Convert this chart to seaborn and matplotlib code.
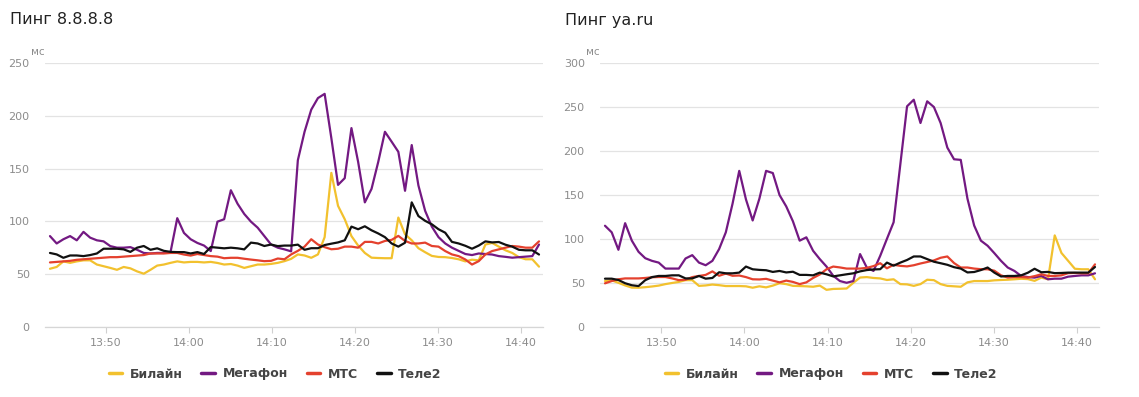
import matplotlib
matplotlib.use('Agg')
import matplotlib.pyplot as plt
import matplotlib.dates as mdates
import pandas as pd
import seaborn as sns

# sample times (same for both charts)
times = pd.date_range('2024-01-01 13:43:15', '2024-01-01 14:42:09', periods=74)

operators = ['Билайн', 'Мегафон', 'МТС', 'Теле2']
colors = {'Билайн': '#f2c12e', 'Мегафон': '#731982', 'МТС': '#e4412e', 'Теле2': '#111111'}

# Пинг 8.8.8.8, ms
g_beeline = [55, 56.7, 62, 60.6, 62, 63, 63, 59, 57.4, 55.8, 54, 56.7, 55.4, 52.5, 50.3, 54, 58, 59, 60.6, 62,
             61, 61.5, 61.5, 61, 61.5, 60.5, 59, 59.5, 58, 55.8, 57.4, 59, 59, 59.6, 60.6, 62.2, 64.4, 68.6, 67.6, 65.4,
             68.6, 85, 146, 114.7, 102, 86, 77, 70, 65.5, 65.2, 65, 65, 103.6, 87.7, 82, 74.5, 70.7, 67.2, 66.2, 66,
             65.2, 64, 62, 63.6, 63, 78, 79.5, 76, 72.5, 70, 66, 64, 64, 57]
g_megafon = [86, 79, 83, 86, 82, 90, 84.5, 82, 81, 76.5, 75, 75, 75.5, 73, 70, 69.5, 70, 70, 71, 103,
             89, 83, 79.5, 77, 71.8, 99.7, 102, 129.5, 116.7, 107, 99.7, 94, 86, 78, 75, 73.4, 71.5, 158, 185, 206,
             217, 221, 179, 134.6, 141, 188.5, 156.4, 118, 130.8, 156.4, 185, 175.6, 166, 129, 172.4, 134, 110, 95, 85, 79,
             75, 72, 69, 68, 69.5, 69, 68.5, 67, 66.3, 65.5, 66, 66.5, 67, 78]
g_mts = [61, 61.5, 62, 62.5, 63.5, 64, 64.5, 65, 65.5, 66, 66, 66.5, 67, 67.5, 68, 69.5, 69.5, 69.5, 70, 70,
         68.5, 67.5, 69, 68, 67, 66.5, 65, 65.4, 65.4, 64.5, 63.7, 63, 62.2, 62.5, 64.7, 64, 68.6, 72, 76, 83,
         78, 75.5, 73.5, 74, 76, 76, 75, 80.5, 80.5, 79, 81.4, 82.4, 86.2, 81.4, 79, 79, 79.8, 76.6, 76, 71.8,
         68.6, 67, 63.8, 59, 62.2, 68.6, 71.8, 73.4, 75, 76.6, 76, 75, 75, 81]
g_tele2 = [70, 68.6, 65.4, 67.6, 67.6, 67, 68, 69.5, 74, 74, 74, 73.4, 71, 75, 76.6, 73, 74.4, 72, 71, 70.8,
           70.8, 69.5, 70.8, 69, 75.6, 75, 74.4, 75, 74.4, 73.4, 79.8, 79, 76.6, 78, 76.5, 77, 77, 77.9, 73, 74.5,
           74.5, 77.5, 78.8, 80, 82, 95, 92.5, 95.3, 91.5, 88.5, 85, 79, 76, 79.7, 118, 105, 100.5, 97.2, 92.5, 89.2,
           80.5, 79, 76.8, 74, 77, 81, 80, 80.4, 77.8, 76, 73, 72.5, 72.5, 68.5]

# Пинг ya.ru, ms
y_beeline = [52, 52.8, 50, 47, 44.5, 44.4, 45, 45.8, 46.8, 48.5, 49.8, 51, 53, 53, 46.5, 47, 48, 47.3, 46.3, 46.3,
             46.3, 46, 44.4, 46, 44.8, 46.8, 49.5, 48.5, 46.5, 46.3, 46, 45.5, 46.8, 42, 43, 43.2, 43.5, 50, 56, 56.5,
             55.5, 55, 53.2, 54, 48.5, 48.2, 46.5, 48.5, 53.5, 53, 48.5, 46.5, 46, 45.5, 50.5, 52, 52, 52, 52.8, 53.2,
             53.5, 54, 54.6, 54.2, 52.2, 55.9, 54, 104, 84, 75, 66, 65.4, 65.4, 54]
y_megafon = [115, 107.5, 87.6, 117.9, 98, 85.3, 78, 75, 73, 66.2, 66.2, 66.2, 77.7, 81.5, 73, 70, 75, 88.4, 107.5, 140,
             177.5, 145, 121, 145.8, 177.5, 175, 150, 137, 120, 98, 101.8, 86.5, 77, 68.5, 58, 52, 50, 52, 82.7, 67.4,
             63.5, 80.7, 100, 119, 185, 251, 258.5, 232, 256.7, 250.2, 232, 204, 190.7, 190, 145.8, 115.2, 98, 92.2, 83.8, 75,
             67.4, 63.5, 57.8, 56.5, 55.9, 57.8, 54, 54.7, 54.7, 57, 57.8, 58.5, 58.5, 60.8]
y_mts = [49.4, 52, 54, 55, 55, 55, 55.5, 56.3, 56.6, 56.6, 55, 53, 53.5, 56.5, 57.8, 59, 63, 58, 60.5, 58,
         58.3, 56.5, 54, 53.8, 54.5, 52.5, 50.5, 52.5, 51, 48.5, 50.5, 55.5, 59.5, 65.4, 68.5, 67.5, 66.2, 66.2, 66.2, 67,
         69, 72.3, 66.5, 70.5, 69.3, 68.7, 70, 72, 73.7, 75.5, 78.5, 80, 72.5, 67.4, 67.4, 66.2, 65.5, 65.4, 63.8, 58.5,
         56, 56.5, 56.5, 56, 57.6, 59.7, 57.8, 57.8, 58.5, 61, 61.2, 60.8, 60.8, 71]
y_tele2 = [54.7, 54.7, 53.2, 49.5, 47.2, 46.3, 53, 56.5, 57.8, 57.8, 58.5, 58.5, 55, 55, 57.8, 54.7, 55.5, 62, 60.8, 60.8,
           61.6, 68.5, 65.4, 64.7, 64.3, 62.4, 63.5, 61.8, 62.6, 59, 59, 58.5, 61.6, 59.7, 57.3, 58.5, 59.7, 60.8, 63, 64.5,
           65.2, 65.5, 73, 69.5, 73, 76, 80, 80, 77, 74, 72.3, 70.5, 67.8, 66.2, 61.8, 62.3, 64.5, 67.4, 61.6, 57.2,
           57.8, 57.8, 58.5, 61.5, 66, 62, 62.4, 61, 61.2, 61.6, 61.6, 61.6, 61.6, 68]


def long_df(b, m, mts, t2):
    d = pd.DataFrame({'time': times, 'Билайн': b, 'Мегафон': m, 'МТС': mts, 'Теле2': t2})
    return d.melt(id_vars='time', var_name='operator', value_name='ping')


sns.set_style('white')
plt.rcParams['font.family'] = ['DejaVu Sans']

W, H = 1139, 397
fig = plt.figure(figsize=(W / 100, H / 100), dpi=100)

panels = [
    ('Пинг 8.8.8.8', long_df(g_beeline, g_megafon, g_mts, g_tele2), 250, 45, 543.3, 10, 275),
    ('Пинг ya.ru', long_df(y_beeline, y_megafon, y_mts, y_tele2), 300, 600, 1099.3, 565, 831),
]

for title, df, ymax, x0, x1, tx, lx in panels:
    ax = fig.add_axes([x0 / W, 1 - 326.7 / H, (x1 - x0) / W, (326.7 - 63.3) / H])
    sns.lineplot(data=df, x='time', y='ping', hue='operator', hue_order=operators,
                 palette=colors, linewidth=1.6, ax=ax)
    ax.set_ylim(0, ymax)
    ax.set_yticks(range(0, ymax + 1, 50))
    ax.set_xlim(pd.Timestamp('2024-01-01 13:42:39'), pd.Timestamp('2024-01-01 14:42:40'))
    ax.xaxis.set_major_locator(mdates.MinuteLocator(byminute=[0, 10, 20, 30, 40, 50]))
    ax.xaxis.set_major_formatter(mdates.DateFormatter('%H:%M'))
    ax.set_xlabel('')
    ax.set_ylabel('')
    for s in ax.spines.values():
        s.set_visible(False)
    ax.spines['bottom'].set_visible(True)
    ax.spines['bottom'].set_color('#d6d6d6')
    ax.spines['bottom'].set_linewidth(0.9)
    ax.grid(axis='y', color='#e3e3e3', linewidth=0.9)
    ax.grid(axis='x', visible=False)
    ax.set_axisbelow(True)
    ax.tick_params(axis='y', length=0, pad=11, labelsize=8, labelcolor='#8c8c8c')
    ax.tick_params(axis='x', length=4, width=0.8, color='#d0d0d0', pad=4,
                   labelsize=8, labelcolor='#8c8c8c', bottom=True)
    ax.annotate('мс', xy=(0, 1), xycoords='axes fraction', xytext=(-5.4, 8.4),
                textcoords='offset points', ha='center', va='center', fontsize=7.5, color='#8c8c8c')
    fig.text(tx / W, 1 - 20 / H, title, ha='left', va='center', fontsize=11.5, color='#222222')

    sns.move_legend(ax, 'center', bbox_to_anchor=((lx - x0) / (x1 - x0), -(374 - 326.7) / (326.7 - 63.3)),
                    ncol=4, frameon=False, title=None, handlelength=1.1, handletextpad=0.6,
                    columnspacing=1.5, fontsize=9)
    leg = ax.get_legend()
    for line in leg.get_lines():
        line.set_linewidth(2.5)
    for txt in leg.get_texts():
        txt.set_color('#444444')
        txt.set_fontweight('bold')

fig.savefig('out.png', dpi=100)
